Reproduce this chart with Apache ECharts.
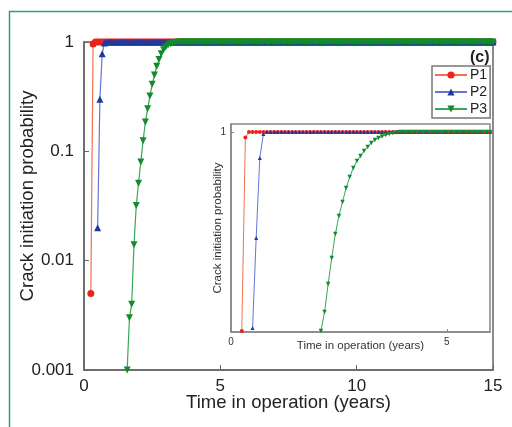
<!DOCTYPE html>
<html>
<head>
<meta charset="utf-8">
<script src="https://cdn.jsdelivr.net/npm/echarts@6/dist/echarts.min.js"></script>
<style>html,body{margin:0;padding:0;background:#fff}#c{width:512px;height:427px}</style>
</head>
<body>
<div id="c"></div>
<script>
// Time grid (years, monthly steps)
const T = [
0,0.083,0.167,0.25,0.333,0.417,0.5,0.583,0.667,0.75,0.833,0.917,
1,1.083,1.167,1.25,1.333,1.417,1.5,1.583,1.667,1.75,1.833,1.917,
2,2.083,2.167,2.25,2.333,2.417,2.5,2.583,2.667,2.75,2.833,2.917,
3,3.083,3.167,3.25,3.333,3.417,3.5,3.583,3.667,3.75,3.833,3.917,
4,4.083,4.167,4.25,4.333,4.417,4.5,4.583,4.667,4.75,4.833,4.917,
5,5.083,5.167,5.25,5.333,5.417,5.5,5.583,5.667,5.75,5.833,5.917,
6,6.083,6.167,6.25,6.333,6.417,6.5,6.583,6.667,6.75,6.833,6.917,
7,7.083,7.167,7.25,7.333,7.417,7.5,7.583,7.667,7.75,7.833,7.917,
8,8.083,8.167,8.25,8.333,8.417,8.5,8.583,8.667,8.75,8.833,8.917,
9,9.083,9.167,9.25,9.333,9.417,9.5,9.583,9.667,9.75,9.833,9.917,
10,10.083,10.167,10.25,10.333,10.417,10.5,10.583,10.667,10.75,10.833,10.917,
11,11.083,11.167,11.25,11.333,11.417,11.5,11.583,11.667,11.75,11.833,11.917,
12,12.083,12.167,12.25,12.333,12.417,12.5,12.583,12.667,12.75,12.833,12.917,
13,13.083,13.167,13.25,13.333,13.417,13.5,13.583,13.667,13.75,13.833,13.917,
14,14.083,14.167,14.25,14.333,14.417,14.5,14.583,14.667,14.75,14.833,14.917,
15
];

// Main plot (log scale) — values start at the given index of T
const P1_start = 3;
const P1 = [0.005,0.96,
1,1,1,1,1,1,1,1,1,1, 1,1,1,1,1,1,1,1,1,1, 1,1,1,1,1,1,1,1,1,1, 1,1,1,1,1,1,1,1,1,1,
1,1,1,1,1,1,1,1,1,1, 1,1,1,1,1,1,1,1,1,1, 1,1,1,1,1,1,1,1,1,1, 1,1,1,1,1,1,1,1,1,1,
1,1,1,1,1,1,1,1,1,1, 1,1,1,1,1,1,1,1,1,1, 1,1,1,1,1,1,1,1,1,1, 1,1,1,1,1,1,1,1,1,1,
1,1,1,1,1,1,1,1,1,1, 1,1,1,1,1,1,1,1,1,1, 1,1,1,1,1,1,1,1,1,1, 1,1,1,1,1,1,1,1,1,1,
1,1,1,1,1,1,1,1,1,1, 1,1,1,1,1,1];
const P2_start = 6;
const P2 = [0.02,0.30,0.78,0.98,
1,1,1,1,1,1,1,1,1,1, 1,1,1,1,1,1,1,1,1,1, 1,1,1,1,1,1,1,1,1,1, 1,1,1,1,1,1,1,1,1,1,
1,1,1,1,1,1,1,1,1,1, 1,1,1,1,1,1,1,1,1,1, 1,1,1,1,1,1,1,1,1,1, 1,1,1,1,1,1,1,1,1,1,
1,1,1,1,1,1,1,1,1,1, 1,1,1,1,1,1,1,1,1,1, 1,1,1,1,1,1,1,1,1,1, 1,1,1,1,1,1,1,1,1,1,
1,1,1,1,1,1,1,1,1,1, 1,1,1,1,1,1,1,1,1,1, 1,1,1,1,1,1,1,1,1,1, 1,1,1,1,1,1,1,1,1,1,
1,1,1,1,1,1,1,1,1,1, 1];
const P3_start = 19;
const P3 = [0.001,0.003,0.004,0.014,0.032,0.051,0.080,0.125,0.185,0.245,0.32,0.41,
0.50,0.60,0.69,0.78,0.85,0.90,0.94,0.965,0.98,0.99,0.995,0.998,
1,1,1,1,1,1,1,1,1,1, 1,1,1,1,1,1,1,1,1,1, 1,1,1,1,1,1,1,1,1,1, 1,1,1,1,1,1,1,1,1,1,
1,1,1,1,1,1,1,1,1,1, 1,1,1,1,1,1,1,1,1,1, 1,1,1,1,1,1,1,1,1,1, 1,1,1,1,1,1,1,1,1,1,
1,1,1,1,1,1,1,1,1,1, 1,1,1,1,1,1,1,1,1,1, 1,1,1,1,1,1,1,1,1,1, 1,1,1,1,1,1,1,1,1,1,
1,1,1,1,1,1,1,1,1,1, 1,1,1,1,1,1,1,1];

// Inset (linear scale)
const P1_inset = [0.005,0.972,
1,1,1,1,1,1,1,1,1,1, 1,1,1,1,1,1,1,1,1,1, 1,1,1,1,1,1,1,1,1,1, 1,1,1,1,1,1,1,1,1,1,
1,1,1,1,1,1,1,1,1,1, 1,1,1,1,1,1,1,1,1,1, 1,1,1,1,1,1,1,1];
const P2_inset = [0.02,0.47,0.87,0.99,
1,1,1,1,1,1,1,1,1,1, 1,1,1,1,1,1,1,1,1,1, 1,1,1,1,1,1,1,1,1,1, 1,1,1,1,1,1,1,1,1,1,
1,1,1,1,1,1,1,1,1,1, 1,1,1,1,1,1,1,1,1,1, 1,1,1];
const P3_inset_start = 25;
const P3_inset = [0.005,0.10,0.24,0.37,0.49,0.58,0.65,0.72,0.775,0.82,0.855,0.88,
0.905,0.925,0.945,0.96,0.97,0.978,0.985,0.99,0.994,0.997,
1,1,1,1,1,1,1,1,1,1, 1,1,1,1,1,1,1,1,1,1, 1,1,1,1,1,1];

const xTicksMain = [0, 5, 10, 15];
const yTicksMain = ['0.001', '0.01', '0.1', '1'];
const names = ['P1', 'P2', 'P3'];

function pair(start, vals) {
  return vals.map((v, i) => [T[start + i], v]).filter(p => p[0] !== undefined);
}

const colors = {
  P1: {line: '#f2704f', mark: '#e8241c'},
  P2: {line: '#6276d4', mark: '#1f3a9c'},
  P3: {line: '#3aa656', mark: '#138a2c'}
};
const downTri = 'path://M0,0 L10,0 L5,9 Z';
const symbols = {P1: 'circle', P2: 'triangle', P3: downTri};

function series(name, data, xi, size, lw, legendName) {
  return {
    name: legendName, type: 'line', data: data,
    xAxisIndex: xi, yAxisIndex: xi,
    symbol: symbols[name], symbolSize: size,
    showAllSymbol: true,
    lineStyle: {color: colors[name].line, width: lw},
    itemStyle: {color: colors[name].mark},
    animation: false, clip: true
  };
}

const chart = echarts.init(document.getElementById('c'), null, {renderer: 'canvas'});
const font = 'Liberation Sans, Arial, sans-serif';
chart.setOption({
  backgroundColor: '#fff',
  animation: false,
  textStyle: {fontFamily: font},
  graphic: [
    {type: 'rect', shape: {x: 9.5, y: 11.5, width: 600, height: 500},
     style: {fill: 'none', stroke: '#2f9a86', lineWidth: 1.5}, z: 0},
    {type: 'text', left: 470, top: 50, z: 50,
     style: {text: '(c)', font: 'bold 16px Liberation Sans, Arial', fill: '#222'}}
  ],
  legend: {
    data: names, orient: 'vertical', left: 432, top: 66,
    padding: [2, 3, 2, 2], itemGap: 3, itemWidth: 32, itemHeight: 9,
    borderColor: '#777', borderWidth: 1.5, backgroundColor: '#fff',
    textStyle: {fontSize: 14, lineHeight: 14, color: '#222', fontFamily: font, padding: [0, 0, 0, -2]},
    z: 40
  },
  grid: [
    {left: 84, right: 19, top: 42, bottom: 57, show: true, borderColor: '#666', borderWidth: 1.5,
     backgroundColor: '#fff', containLabel: false, outerBoundsMode: 'none'},
    {left: 231, right: 22, top: 124, bottom: 95, show: true, borderColor: '#888', borderWidth: 1.5,
     backgroundColor: '#fff', z: 10, containLabel: false, outerBoundsMode: 'none'}
  ],
  xAxis: [
    {gridIndex: 0, type: 'value', min: 0, max: 15, interval: 5,
     name: 'Time in operation (years)', nameLocation: 'middle', nameGap: 23, nameMoveOverlap: false,
     nameTextStyle: {fontSize: 18.5, color: '#222'},
     axisLine: {lineStyle: {color: '#666', width: 1.5}},
     axisTick: {inside: true, length: 5, lineStyle: {color: '#666'}},
     axisLabel: {fontSize: 17, color: '#222', margin: 8,
       formatter: v => xTicksMain.includes(v) ? String(v) : ''},
     splitLine: {show: false}},
    {gridIndex: 1, type: 'value', min: 0, max: 6, interval: 5, z: 11,
     name: 'Time in operation (years)', nameLocation: 'middle', nameGap: 8, nameMoveOverlap: false,
     nameTextStyle: {fontSize: 11.5, color: '#333'},
     axisLine: {lineStyle: {color: '#888', width: 1.5}},
     axisTick: {inside: true, length: 3, lineStyle: {color: '#888'}},
     axisLabel: {fontSize: 10, color: '#333', margin: 5, showMaxLabel: false},
     splitLine: {show: false}}
  ],
  yAxis: [
    {gridIndex: 0, type: 'log', logBase: 10, min: 0.001, max: 1,
     name: 'Crack initiation probability', nameLocation: 'middle', nameGap: 47, nameMoveOverlap: false,
     nameTextStyle: {fontSize: 18.5, color: '#222', padding: [0, 0, 0, 20]},
     axisLine: {lineStyle: {color: '#666', width: 1.5}},
     axisTick: {inside: true, length: 5, lineStyle: {color: '#666'}},
     axisLabel: {fontSize: 17, color: '#222', margin: 10,
       formatter: v => { const s = String(Number(v.toPrecision(1))); return yTicksMain.includes(s) ? s : ''; }},
     splitLine: {show: false}, minorTick: {show: false}},
    {gridIndex: 1, type: 'value', min: 0, max: 1.04, interval: 1, z: 11,
     name: 'Crack initiation probability', nameLocation: 'middle', nameGap: 7, nameMoveOverlap: false,
     nameTextStyle: {fontSize: 11.5, color: '#333'},
     axisLine: {lineStyle: {color: '#888', width: 1.5}},
     axisTick: {inside: true, length: 3, lineStyle: {color: '#888'}},
     axisLabel: {fontSize: 10, color: '#333', margin: 5, showMinLabel: false, showMaxLabel: false,
       formatter: v => v === 1 ? '1' : ''},
     splitLine: {show: false}}
  ],
  series: [
    series('P1', pair(P1_start, P1), 0, 7, 1.2, 'P1'),
    series('P2', pair(P2_start, P2), 0, 7, 1.2, 'P2'),
    series('P3', pair(P3_start, P3), 0, 7, 1.2, 'P3'),
    Object.assign(series('P1', pair(P1_start, P1_inset), 1, 4, 1, 'P1 inset'), {z: 12}),
    Object.assign(series('P2', pair(P2_start, P2_inset), 1, 4, 1, 'P2 inset'), {z: 12}),
    Object.assign(series('P3', pair(P3_inset_start, P3_inset), 1, 4.5, 1, 'P3 inset'), {z: 12})
  ]
});
</script>
</body>
</html>
